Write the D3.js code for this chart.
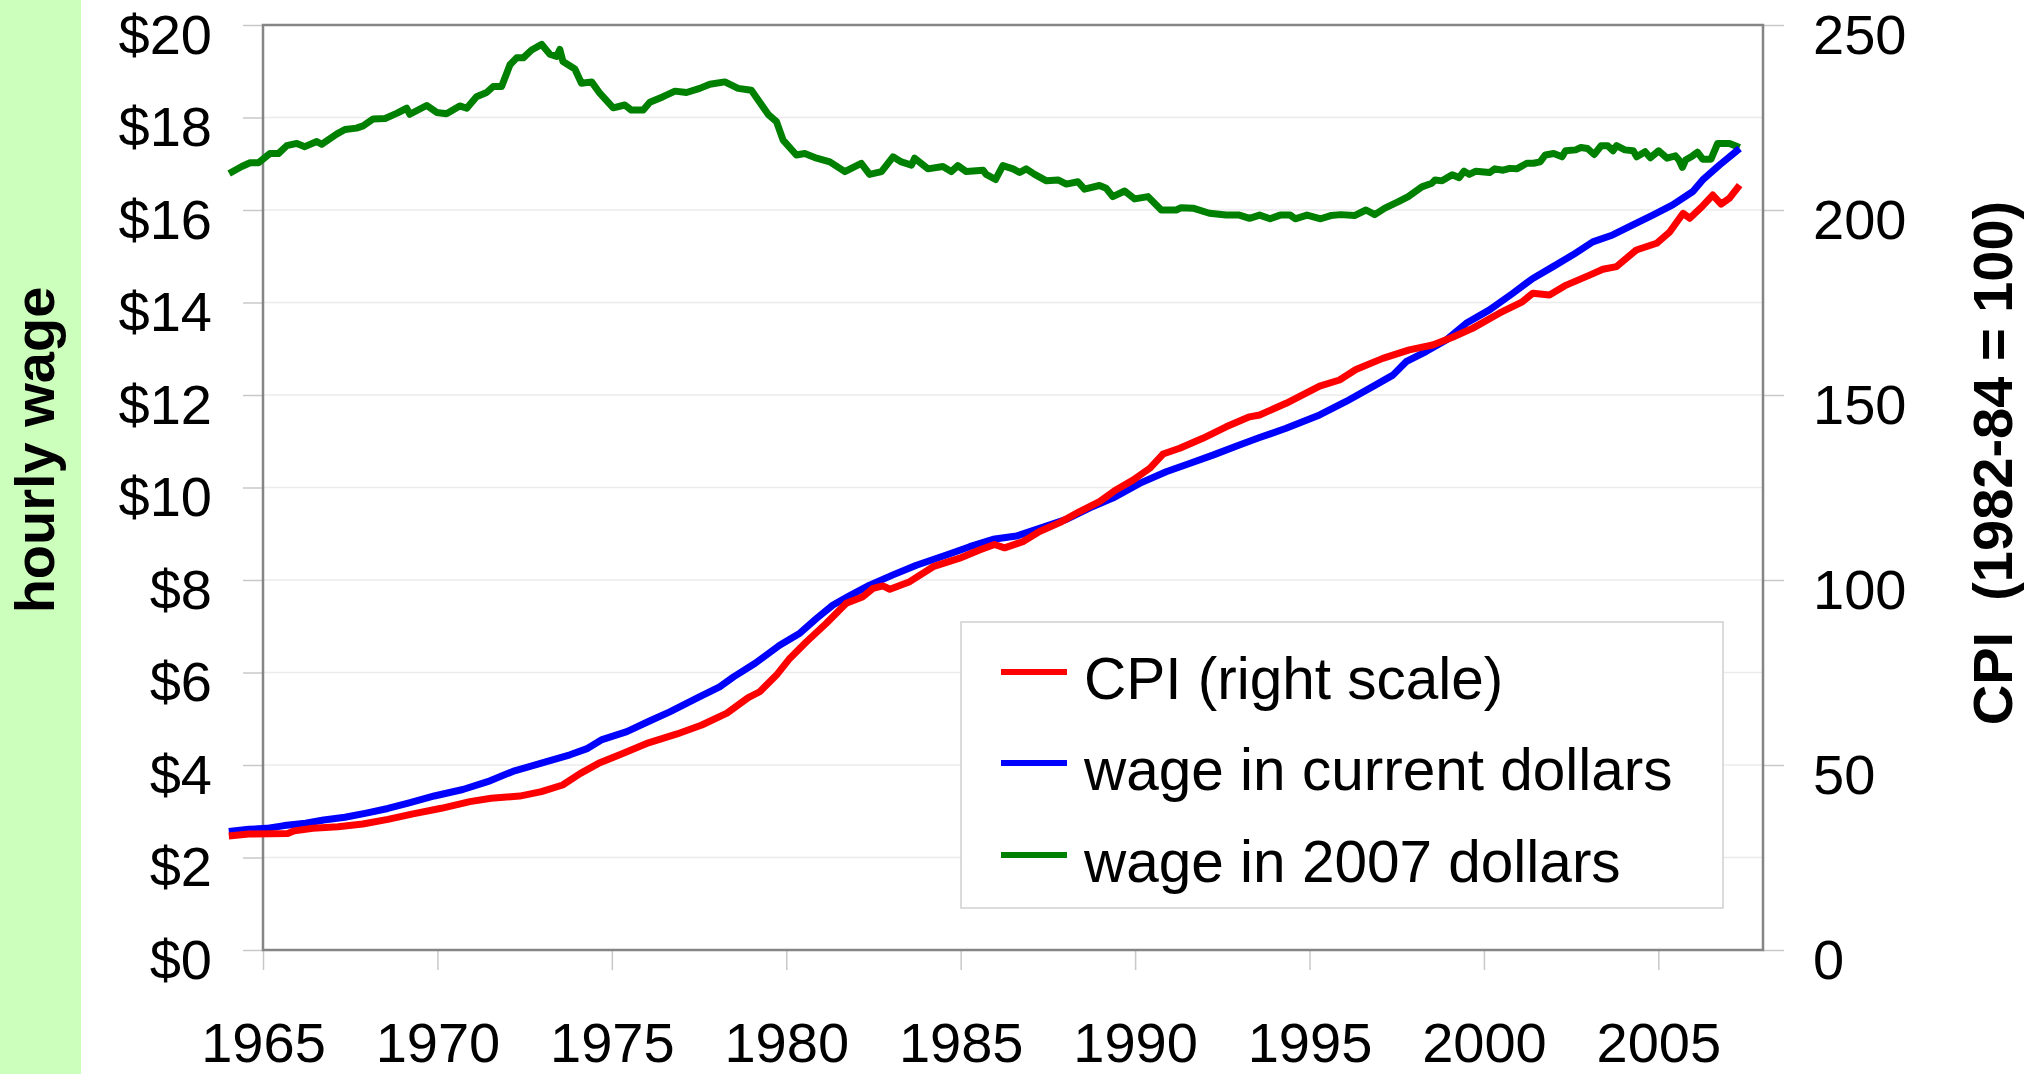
<!DOCTYPE html>
<html><head><meta charset="utf-8">
<script src="https://cdn.jsdelivr.net/npm/d3@7"></script>
<style>
body{margin:0;background:#fff;overflow:hidden}
text{font-family:"Liberation Sans",Arial,sans-serif}
</style>
</head><body>
<svg id="c" width="2044" height="1074"></svg>
<script>
// ---- data ----
const yearTicks = [1965,1970,1975,1980,1985,1990,1995,2000,2005];
const wageTicks = [0,2,4,6,8,10,12,14,16,18,20];
const cpiTicks = [0,50,100,150,200,250];
const seriesNames = ["CPI (right scale)","wage in current dollars","wage in 2007 dollars"];
const seriesColors = ["#ff0000","#0000ff","#008000"];
const leftTitle = "hourly wage";
const rightTitle = "CPI  (1982-84 = 100)";

// CPI (1982-84 = 100), [year, value]
const cpi = [[1964.02,30.8],[1964.59,31.35],[1965.71,31.5],[1965.9,32.2],[1966.43,32.9],[1967.15,33.3],[1967.86,34.05],[1968.58,35.3],[1969.3,36.8],[1970.11,38.3],[1970.93,40.1],[1971.54,41.0],[1972.36,41.6],[1972.98,42.8],[1973.59,44.6],[1974.1,47.75],[1974.62,50.45],[1975.33,53.15],[1976.05,56.0],[1976.87,58.4],[1977.58,60.8],[1978.3,64.0],[1978.91,68.2],[1979.24,69.8],[1979.72,74.3],[1980.1,78.8],[1980.58,83.3],[1981.15,88.3],[1981.72,93.7],[1982.2,95.5],[1982.49,97.75],[1982.77,98.4],[1982.97,97.5],[1983.54,99.55],[1984.21,103.6],[1984.97,105.9],[1985.54,108.1],[1985.97,109.6],[1986.26,108.7],[1986.78,110.35],[1987.26,113.1],[1987.84,115.5],[1988.41,118.5],[1988.98,121.2],[1989.41,124.1],[1989.94,127.0],[1990.42,130.2],[1990.8,134.05],[1991.28,135.6],[1991.94,138.3],[1992.61,141.4],[1993.28,144.1],[1993.57,144.6],[1994.33,147.75],[1995.29,152.4],[1995.86,154.05],[1996.33,156.9],[1997.1,159.9],[1997.86,162.2],[1998.53,163.5],[1999.1,165.6],[1999.67,168.0],[2000.44,172.1],[2001.1,175.2],[2001.4,177.5],[2001.88,177.0],[2002.36,179.7],[2003.03,182.4],[2003.41,184.0],[2003.8,184.7],[2004.37,189.2],[2004.95,191.0],[2005.33,194.1],[2005.71,199.1],[2005.9,197.75],[2006.27,201.1],[2006.56,204.05],[2006.8,201.6],[2007.04,203.2],[2007.33,206.75]];

// hourly wage in current dollars, [year, value]
const wageCurrent = [[1964.02,2.56],[1964.59,2.61],[1965.1,2.63],[1965.61,2.69],[1966.22,2.74],[1966.74,2.81],[1967.35,2.87],[1967.96,2.96],[1968.58,3.06],[1969.19,3.18],[1969.91,3.33],[1970.73,3.47],[1971.44,3.64],[1972.16,3.86],[1972.98,4.04],[1973.8,4.22],[1974.31,4.36],[1974.72,4.55],[1975.43,4.72],[1976.05,4.94],[1976.66,5.15],[1977.48,5.46],[1978.09,5.69],[1978.5,5.91],[1979.11,6.2],[1979.81,6.59],[1980.39,6.85],[1980.87,7.17],[1981.34,7.46],[1981.77,7.64],[1982.39,7.89],[1983.06,8.11],[1983.73,8.32],[1984.59,8.54],[1985.26,8.72],[1985.93,8.88],[1986.6,8.95],[1987.26,9.12],[1988.03,9.31],[1988.79,9.59],[1989.36,9.77],[1990.13,10.09],[1990.89,10.34],[1991.56,10.52],[1992.23,10.7],[1992.99,10.92],[1993.57,11.08],[1994.33,11.28],[1995.29,11.57],[1996.05,11.86],[1996.81,12.18],[1997.39,12.43],[1997.77,12.72],[1998.34,12.94],[1998.92,13.19],[1999.49,13.55],[2000.16,13.84],[2000.83,14.2],[2001.4,14.52],[2001.97,14.77],[2002.55,15.03],[2003.12,15.31],[2003.69,15.46],[2004.27,15.68],[2004.84,15.89],[2005.41,16.11],[2005.99,16.4],[2006.27,16.65],[2006.75,16.97],[2007.33,17.33]];

// hourly wage in 2007 dollars, [year, value]
const wage2007 = [[1964.03,16.79],[1964.39,16.94],[1964.63,17.02],[1964.87,17.02],[1965.2,17.22],[1965.44,17.22],[1965.68,17.39],[1965.97,17.44],[1966.2,17.37],[1966.54,17.48],[1966.68,17.42],[1967.11,17.64],[1967.35,17.74],[1967.68,17.77],[1967.87,17.82],[1968.16,17.97],[1968.5,17.98],[1968.83,18.09],[1969.12,18.2],[1969.21,18.07],[1969.69,18.26],[1969.98,18.11],[1970.26,18.08],[1970.64,18.25],[1970.84,18.2],[1971.12,18.45],[1971.41,18.54],[1971.6,18.67],[1971.84,18.67],[1972.08,19.14],[1972.27,19.29],[1972.46,19.29],[1972.7,19.46],[1972.99,19.58],[1973.22,19.37],[1973.42,19.32],[1973.51,19.47],[1973.6,19.21],[1973.94,19.05],[1974.13,18.74],[1974.42,18.77],[1974.66,18.52],[1975.04,18.21],[1975.37,18.27],[1975.56,18.16],[1975.9,18.16],[1976.09,18.33],[1976.47,18.45],[1976.81,18.57],[1977.14,18.54],[1977.52,18.63],[1977.81,18.72],[1978.24,18.77],[1978.62,18.63],[1979.0,18.59],[1979.24,18.33],[1979.48,18.07],[1979.72,17.91],[1979.91,17.51],[1980.29,17.19],[1980.53,17.22],[1980.87,17.12],[1981.25,17.04],[1981.68,16.83],[1982.15,17.01],[1982.39,16.77],[1982.73,16.83],[1983.06,17.15],[1983.3,17.04],[1983.59,16.97],[1983.68,17.12],[1984.06,16.89],[1984.49,16.94],[1984.73,16.83],[1984.92,16.96],[1985.16,16.83],[1985.64,16.86],[1985.73,16.77],[1986.0,16.66],[1986.21,16.96],[1986.5,16.89],[1986.69,16.81],[1986.88,16.89],[1987.12,16.77],[1987.46,16.63],[1987.79,16.65],[1988.03,16.56],[1988.36,16.61],[1988.55,16.45],[1988.98,16.53],[1989.17,16.47],[1989.36,16.29],[1989.7,16.41],[1989.99,16.24],[1990.37,16.29],[1990.75,16.0],[1991.18,16.0],[1991.32,16.05],[1991.66,16.04],[1992.13,15.93],[1992.61,15.89],[1992.99,15.89],[1993.28,15.82],[1993.57,15.89],[1993.87,15.81],[1994.16,15.89],[1994.45,15.89],[1994.59,15.81],[1994.93,15.89],[1995.32,15.81],[1995.61,15.88],[1995.9,15.9],[1996.29,15.88],[1996.62,16.0],[1996.87,15.9],[1997.16,16.04],[1997.55,16.18],[1997.83,16.29],[1998.22,16.5],[1998.51,16.58],[1998.6,16.65],[1998.8,16.63],[1999.09,16.76],[1999.29,16.7],[1999.43,16.84],[1999.58,16.77],[1999.77,16.84],[2000.16,16.81],[2000.31,16.89],[2000.55,16.86],[2000.74,16.9],[2000.94,16.89],[2001.23,17.01],[2001.42,17.01],[2001.61,17.04],[2001.76,17.19],[2002.0,17.22],[2002.24,17.15],[2002.34,17.28],[2002.63,17.3],[2002.78,17.35],[2002.97,17.33],[2003.16,17.2],[2003.36,17.39],[2003.55,17.39],[2003.7,17.28],[2003.8,17.39],[2004.04,17.3],[2004.28,17.28],[2004.38,17.15],[2004.62,17.26],[2004.77,17.13],[2005.01,17.28],[2005.25,17.12],[2005.49,17.17],[2005.59,17.08],[2005.69,16.92],[2005.78,17.08],[2005.98,17.17],[2006.12,17.25],[2006.27,17.1],[2006.51,17.1],[2006.7,17.44],[2007.04,17.44],[2007.33,17.35]];

// ---- drawing ----
const svg = d3.select("#c");
const P = {left:263, right:1763, top:25, bottom:950};
const x = d3.scaleLinear().domain([1965,2008]).range([P.left,P.right]);
const yW = d3.scaleLinear().domain([0,20]).range([P.bottom,P.top]);
const yC = d3.scaleLinear().domain([0,250]).range([P.bottom,P.top]);

// green side band
svg.append("rect").attr("x",0).attr("y",0).attr("width",81).attr("height",1074).attr("fill","#ccffbb");

// gridlines
svg.append("g").selectAll("line").data(wageTicks.filter(d=>d>0&&d<20)).join("line")
  .attr("x1",P.left).attr("x2",P.right)
  .attr("y1",d=>yW(d)).attr("y2",d=>yW(d))
  .attr("stroke","#ebebeb").attr("stroke-width",1.5);

const FS = 56;
function styleAxis(g){
  g.select(".domain").remove();
  g.selectAll(".tick line").attr("stroke","#c8c8c8").attr("stroke-width",1.5);
  g.selectAll(".tick text").attr("font-size",FS).attr("fill","#000")
    .style("font-family",'"Liberation Sans",Arial,sans-serif');
}

const gl = svg.append("g").attr("transform",`translate(${P.left},0)`)
  .call(d3.axisLeft(yW).tickValues(wageTicks).tickSize(20).tickPadding(31).tickFormat(d=>"$"+d));
styleAxis(gl); gl.selectAll(".tick text").attr("dy","0.5em");

const gr = svg.append("g").attr("transform",`translate(${P.right},0)`)
  .call(d3.axisRight(yC).tickValues(cpiTicks).tickSize(21).tickPadding(29).tickFormat(d3.format("d")));
styleAxis(gr); gr.selectAll(".tick text").attr("dy","0.5em");

const gb = svg.append("g").attr("transform",`translate(0,${P.bottom})`)
  .call(d3.axisBottom(x).tickValues(yearTicks).tickSize(20).tickPadding(52).tickFormat(d3.format("d")));
styleAxis(gb);

// plot frame
svg.append("rect").attr("x",P.left).attr("y",P.top)
  .attr("width",P.right-P.left).attr("height",P.bottom-P.top)
  .attr("fill","none").attr("stroke","#858585").attr("stroke-width",2.5);

// lines
const lineW = d3.line().x(d=>x(d[0])).y(d=>yW(d[1]));
const lineC = d3.line().x(d=>x(d[0])).y(d=>yC(d[1]));
const drawn = [
  {data:wage2007, gen:lineW, color:seriesColors[2]},
  {data:wageCurrent, gen:lineW, color:seriesColors[1]},
  {data:cpi, gen:lineC, color:seriesColors[0]}
];
drawn.forEach(s=>{
  svg.append("path").datum(s.data).attr("d",s.gen)
    .attr("fill","none").attr("stroke",s.color).attr("stroke-width",7)
    .attr("stroke-linejoin","round").attr("stroke-linecap","butt");
});

// legend
const lg = svg.append("g");
lg.append("rect").attr("x",961).attr("y",622).attr("width",762).attr("height",286)
  .attr("fill","#fff").attr("stroke","#d0d0d0").attr("stroke-width",1.5);
const legY = [672,763,855];
seriesNames.forEach((n,i)=>{
  lg.append("line").attr("x1",1001).attr("x2",1067).attr("y1",legY[i]).attr("y2",legY[i])
    .attr("stroke",seriesColors[i]).attr("stroke-width",6);
  lg.append("text").attr("x",1084).attr("y",legY[i]+27).attr("font-size",58.5).text(n);
});

// axis titles
svg.append("text").attr("transform","translate(54,450) rotate(-90)")
  .attr("text-anchor","middle").attr("font-size",56).attr("font-weight","bold").text(leftTitle);
svg.append("text").attr("transform","translate(2012,463) rotate(-90)")
  .attr("text-anchor","middle").attr("font-size",56).attr("font-weight","bold")
  .style("white-space","pre").text(rightTitle);
</script>
</body></html>
